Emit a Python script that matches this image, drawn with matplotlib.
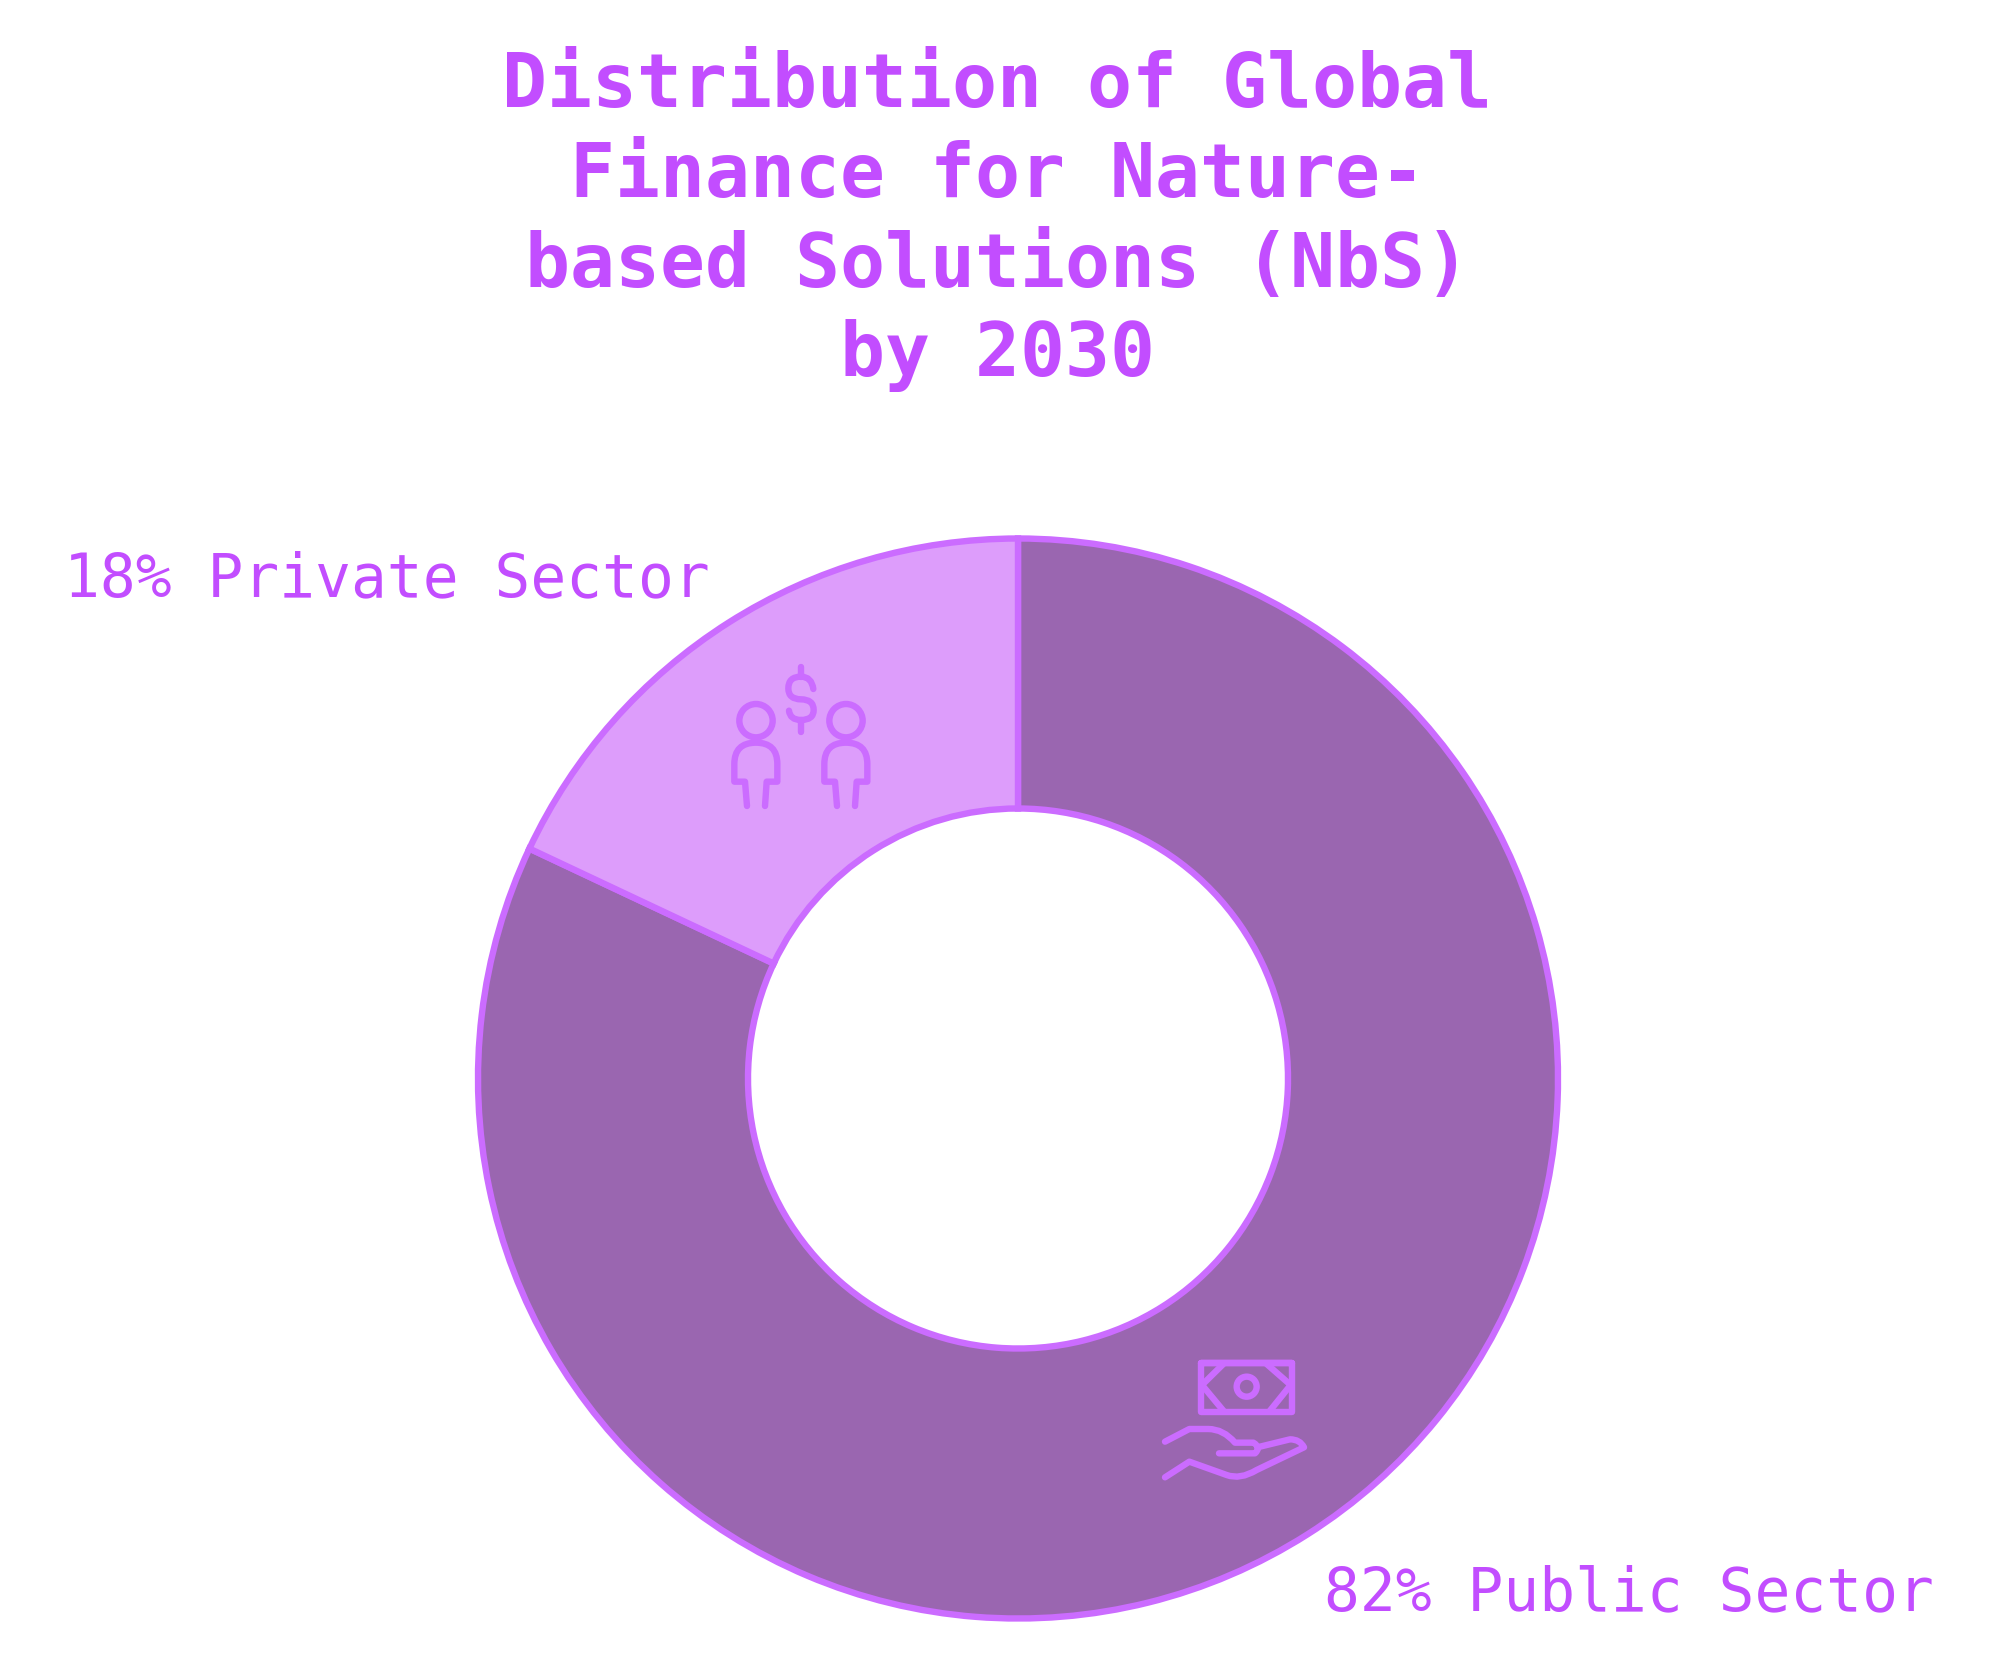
import matplotlib
matplotlib.use("Agg")
import matplotlib.pyplot as plt
from matplotlib.path import Path
from matplotlib.patches import PathPatch, Circle

W, H = 2000, 1658
TITLE_LINES = ["Distribution of Global", "Finance for Nature-", "based Solutions (NbS)", "by 2030"]
SECTORS = ["Public Sector", "Private Sector"]
SHARES = [82, 18]
FILL_COLORS = ["#9A66B0", "#DD9DFB"]
TEXT_COLOR = "#C24DFF"
LINE_COLOR = "#CB6CFF"
FONT = ["DejaVu Sans Mono"]

fig = plt.figure(figsize=(W / 100, H / 100), dpi=100, facecolor="white")

# donut
cx, cy, R, r_in = 1018, 1079.5, 540, 270
span = R * 1.25
pie_ax = fig.add_axes([(cx - span) / W, 1 - (cy + span) / H, 2 * span / W, 2 * span / H])
pie_ax.pie(SHARES, colors=FILL_COLORS, startangle=90, counterclock=False, radius=1,
           wedgeprops=dict(width=1 - r_in / R, edgecolor=LINE_COLOR, linewidth=4.6, joinstyle="miter"))
pie_ax.set_xlim(-1.25, 1.25)
pie_ax.set_ylim(-1.25, 1.25)
pie_ax.set_aspect("equal")
pie_ax.axis("off")

# overlay in pixel coordinates
ov = fig.add_axes([0, 0, 1, 1], facecolor="none")
ov.set_xlim(0, W)
ov.set_ylim(H, 0)
ov.axis("off")

# title
title_y = [107, 197, 287, 376]
for line, y in zip(TITLE_LINES, title_y):
    ov.text(997.5, y, line, ha="center", va="baseline", family=FONT, weight="bold",
            fontsize=53.8, color=TEXT_COLOR)

# labels
ov.text(64, 596, f"{SHARES[1]}% {SECTORS[1]}", ha="left", va="baseline", family=FONT,
        fontsize=42.85, color=TEXT_COLOR)
ov.text(1324, 1610, f"{SHARES[0]}% {SECTORS[0]}", ha="left", va="baseline", family=FONT,
        fontsize=42.85, color=TEXT_COLOR)

ICON_LW = 4.6
M, L, C3 = Path.MOVETO, Path.LINETO, Path.CURVE3


def stroke(verts, codes, ox, oy):
    pts = [(ox + x / 3, oy + y / 3) for x, y in verts]
    ov.add_patch(PathPatch(Path(pts, codes), fill=False, edgecolor=LINE_COLOR, lw=ICON_LW,
                           capstyle="round", joinstyle="round"))


def ring(x, y, rad, ox, oy):
    ov.add_patch(Circle((ox + x / 3, oy + y / 3), rad / 3, fill=False, edgecolor=LINE_COLOR, lw=ICON_LW))


# people + dollar icon
ox, oy = 700, 641
for dx in (0, 270):
    ring(168 + dx, 242, 50, ox, oy)
    stroke([(141 + dx, 498), (135 + dx, 425), (103 + dx, 425), (103 + dx, 372),
            (103 + dx, 308), (168 + dx, 308), (232 + dx, 308), (232 + dx, 372),
            (232 + dx, 425), (200 + dx, 425), (195 + dx, 498)],
           [M, L, L, L, C3, C3, C3, C3, L, L, L], ox, oy)
stroke([(303, 82), (303, 110)], [M, L], ox, oy)
stroke([(303, 240), (303, 275)], [M, L], ox, oy)
stroke([(340, 147), (335, 110), (303, 110), (265, 110), (265, 145), (265, 178), (303, 178),
        (341, 178), (341, 210), (341, 240), (303, 240), (270, 240), (267, 212)],
       [M, C3, C3, C3, C3, C3, C3, C3, C3, C3, C3, C3, C3], ox, oy)

# money + hand icon
ox, oy = 1140, 1341
stroke([(183, 68), (456, 68), (456, 215), (183, 215), (183, 68), (456, 68)], [M, L, L, L, L, L], ox, oy)
ring(320, 140, 30, ox, oy)
stroke([(250, 72), (186, 135), (250, 212)], [M, L, L], ox, oy)
stroke([(380, 72), (452, 135), (390, 212)], [M, L, L], ox, oy)
stroke([(75, 305), (148, 267), (205, 267), (250, 267), (285, 308), (340, 308),
        (365, 322), (345, 340), (237, 340)],
       [M, L, L, C3, C3, L, C3, C3, L], ox, oy)
stroke([(360, 320), (450, 298), (480, 298), (492, 322), (350, 390), (300, 420), (260, 405),
        (148, 365), (75, 412)],
       [M, L, C3, C3, L, C3, C3, L, L], ox, oy)

fig.savefig("out.png", dpi=100, facecolor="white")
